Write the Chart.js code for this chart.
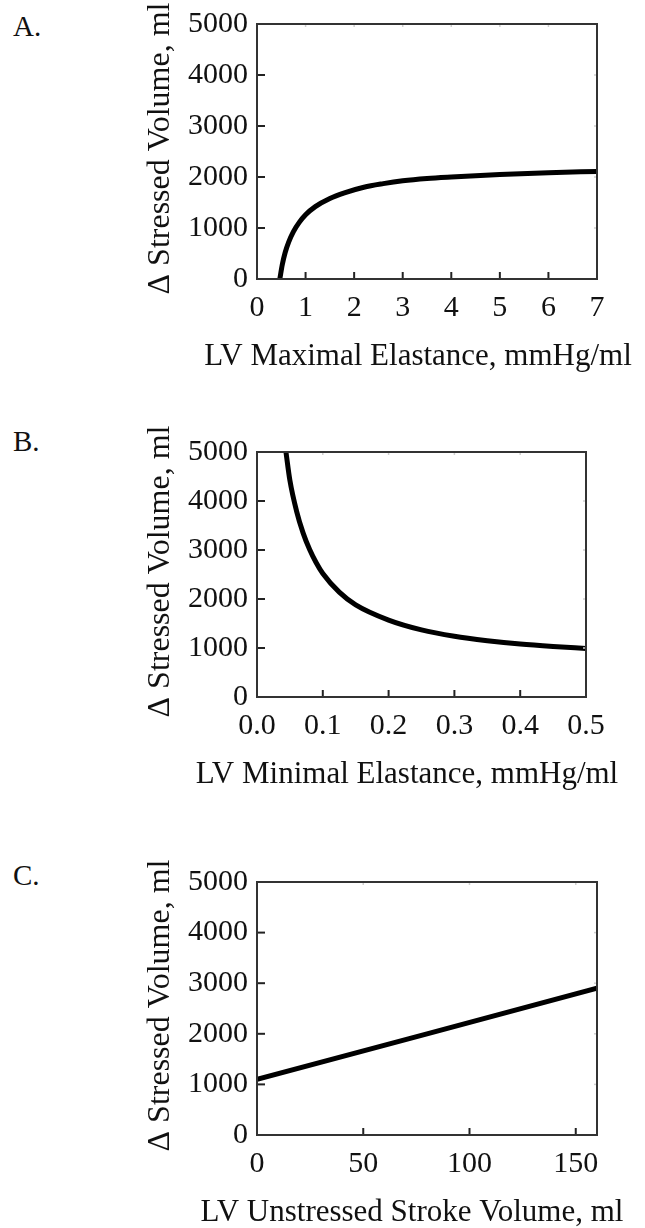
<!DOCTYPE html>
<html>
<head>
<meta charset="utf-8">
<script src="https://cdn.jsdelivr.net/npm/chart.js@4"></script>
<style>
  html, body { margin: 0; padding: 0; background: #fff; overflow: hidden; }
  body { width: 645px; height: 1228px; position: relative; }
  canvas { position: absolute; left: 0; }
  .letter { position: absolute; left: 13px; font: 29px 'Liberation Serif', serif; color: #111; }
</style>
</head>
<body>
<div class="letter" style="top:10px">A.</div>
<div class="letter" style="top:425px">B.</div>
<div class="letter" style="top:859px">C.</div>
<canvas id="chartA" width="645" height="410" style="top:0px"></canvas>
<canvas id="chartB" width="645" height="420" style="top:400px"></canvas>
<canvas id="chartC" width="645" height="420" style="top:808px"></canvas>
<script>
// Panel A: LV maximal elastance vs change in stressed volume
const maxElastance = [0.47, 0.52, 0.58, 0.65, 0.75, 0.87, 1.0, 1.2, 1.5, 1.8, 2.2, 2.6, 3.0, 3.5, 4.0, 5.0, 6.0, 7.0];
const stressedVolA = [0, 280, 520, 720, 930, 1110, 1260, 1420, 1580, 1690, 1800, 1870, 1925, 1970, 2000, 2050, 2085, 2110];
const xTicksA = [0, 1, 2, 3, 4, 5, 6, 7];

// Panel B: LV minimal elastance
const minElastance = [0.044, 0.05, 0.06, 0.07, 0.08, 0.09, 0.1, 0.125, 0.15, 0.2, 0.25, 0.3, 0.35, 0.4, 0.45, 0.5];
const stressedVolB = [5000, 4420, 3800, 3350, 3010, 2740, 2520, 2140, 1880, 1570, 1370, 1240, 1150, 1080, 1030, 990];
const xTicksB = [0, 0.1, 0.2, 0.3, 0.4, 0.5];

// Panel C: LV unstressed stroke volume (straight line)
const unstressedSV = [0, 160];
const stressedVolC = [1100, 2900];
const xTicksC = [0, 50, 100, 150];

const yTicks = [0, 1000, 2000, 3000, 4000, 5000];
const yTitle = '\u0394 Stressed Volume, ml';

const serif = "'Liberation Serif', 'Times New Roman', serif";

// Draws the box, the inward tick marks and the axis titles
// (titles drawn by hand so Chart.js does not squeeze them to the plot width)
const framePlugin = {
  id: 'frame',
  afterDatasetsDraw(chart, args, opts) {
    const { ctx, chartArea: a, scales } = chart;
    const x = scales.x, y = scales.y;
    ctx.save();
    // faint ticks on the top and right edges
    ctx.strokeStyle = '#cfcfcf';
    ctx.lineWidth = 1.5;
    x.ticks.forEach(t => {
      if (t.value === x.min || t.value === x.max) return;
      const px = x.getPixelForValue(t.value);
      ctx.beginPath(); ctx.moveTo(px, a.top); ctx.lineTo(px, a.top + 3); ctx.stroke();
    });
    y.ticks.forEach(t => {
      if (t.value === y.min || t.value === y.max) return;
      const py = y.getPixelForValue(t.value);
      ctx.beginPath(); ctx.moveTo(a.right, py); ctx.lineTo(a.right - 3, py); ctx.stroke();
    });
    // major ticks on bottom and left
    ctx.strokeStyle = '#222';
    ctx.lineWidth = 2;
    x.ticks.forEach(t => {
      if (t.value === x.min || t.value === x.max) return;
      const px = x.getPixelForValue(t.value);
      ctx.beginPath(); ctx.moveTo(px, a.bottom); ctx.lineTo(px, a.bottom - 7); ctx.stroke();
    });
    y.ticks.forEach(t => {
      if (t.value === y.min || t.value === y.max) return;
      const py = y.getPixelForValue(t.value);
      ctx.beginPath(); ctx.moveTo(a.left, py); ctx.lineTo(a.left + 8, py); ctx.stroke();
    });
    // box
    ctx.strokeStyle = '#333';
    ctx.lineWidth = 2;
    ctx.strokeRect(a.left, a.top, a.right - a.left, a.bottom - a.top);

    // axis titles
    ctx.fillStyle = '#111';
    ctx.textAlign = 'center';
    ctx.textBaseline = 'alphabetic';
    ctx.font = '31px ' + serif;
    ctx.fillText(opts.xTitle, opts.xTitleCenter, a.bottom + 86);
    ctx.font = '32px ' + serif;
    ctx.translate(169, (a.top + a.bottom) / 2 - 3);
    ctx.rotate(-Math.PI / 2);
    ctx.fillText(yTitle, 0, 0);
    ctx.restore();
  }
};

// area = wanted plot box inside the canvas (top, bottom, right), canvas pixels
function makePanel(id, canvasH, area, xs, ys, xTicks, xMax, xTitle, xTitleCenter, decimals) {
  const xHeight = 100;
  const ctx = document.getElementById(id).getContext('2d');
  return new Chart(ctx, {
    type: 'line',
    data: {
      datasets: [{
        data: xs.map((v, i) => ({ x: v, y: ys[i] })),
        borderColor: '#000',
        borderWidth: 5,
        pointRadius: 0,
        fill: false,
        cubicInterpolationMode: 'monotone'
      }]
    },
    options: {
      responsive: false,
      animation: false,
      events: [],
      layout: {
        padding: { top: area.top, right: 645 - area.right, left: 0, bottom: canvasH - area.bottom - xHeight }
      },
      plugins: {
        legend: { display: false },
        tooltip: { enabled: false },
        frame: { xTitle: xTitle, xTitleCenter: xTitleCenter }
      },
      scales: {
        x: {
          type: 'linear',
          min: 0,
          max: xMax,
          grid: { display: false },
          border: { display: false },
          afterBuildTicks: s => { s.ticks = xTicks.map(v => ({ value: v })); },
          afterFit: s => { s.height = xHeight; },
          ticks: {
            padding: 3,
            color: '#111',
            font: { family: serif, size: 30 },
            maxRotation: 0,
            callback: v => decimals ? Number(v).toFixed(decimals) : String(v)
          }
        },
        y: {
          min: 0,
          max: 5000,
          grid: { display: false },
          border: { display: false },
          afterBuildTicks: s => { s.ticks = yTicks.map(v => ({ value: v })); },
          afterFit: s => { s.width = 257; },
          ticks: {
            padding: 1,
            color: '#111',
            font: { family: serif, size: 30 },
            callback: v => String(v)
          }
        }
      }
    },
    plugins: [framePlugin]
  });
}

makePanel('chartA', 410, { top: 24, bottom: 279, right: 597 }, maxElastance, stressedVolA, xTicksA, 7,
  'LV Maximal Elastance, mmHg/ml', 418, 0);
makePanel('chartB', 420, { top: 52, bottom: 297, right: 586 }, minElastance, stressedVolB, xTicksB, 0.5,
  'LV Minimal Elastance, mmHg/ml', 407, 1);
makePanel('chartC', 420, { top: 74, bottom: 327, right: 597 }, unstressedSV, stressedVolC, xTicksC, 160,
  'LV Unstressed Stroke Volume, ml', 412, 0);
</script>
</body>
</html>
